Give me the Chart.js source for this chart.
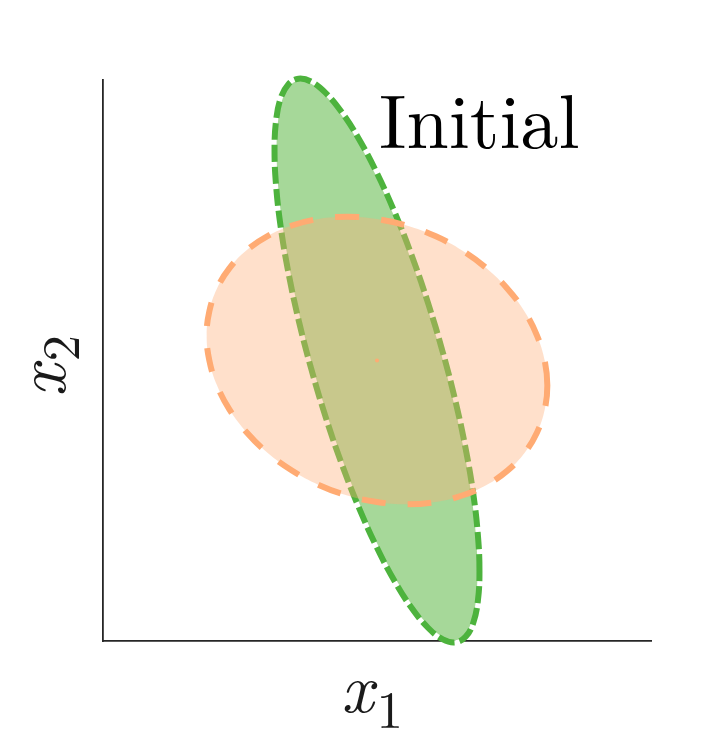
<!DOCTYPE html>
<html><head><meta charset="utf-8">
<script src="https://cdn.jsdelivr.net/npm/chart.js@4.4.0/dist/chart.umd.min.js"></script>
<style>html,body{margin:0;padding:0;background:#fff;} #c{display:block;}</style>
</head><body>
<canvas id="c" width="719" height="750"></canvas>
<script>
// Outline of the green (narrow, tilted) ellipse
const greenX = [1.122, 1.105, 1.055, 0.972, 0.860, 0.721, 0.561, 0.384, 0.195, 0, -0.195, -0.384, -0.561, -0.721, -0.860, -0.972, -1.055, -1.105, -1.122, -1.105, -1.055, -0.972, -0.860, -0.721, -0.561, -0.384, -0.195, 0, 0.195, 0.384, 0.561, 0.721, 0.860, 0.972, 1.055, 1.105];
const greenY = [-2.253, -1.871, -1.433, -0.950, -0.439, 0.086, 0.608, 1.112, 1.581, 2.003, 2.364, 2.653, 2.861, 2.983, 3.014, 2.953, 2.803, 2.567, 2.253, 1.871, 1.433, 0.950, 0.439, -0.086, -0.608, -1.112, -1.581, -2.003, -2.364, -2.653, -2.861, -2.983, -3.014, -2.953, -2.803, -2.567];
// Outline of the orange (wide) ellipse
const orangeX = [1.865, 1.836, 1.752, 1.615, 1.428, 1.199, 0.932, 0.638, 0.324, 0, -0.324, -0.638, -0.932, -1.199, -1.428, -1.615, -1.752, -1.836, -1.865, -1.836, -1.752, -1.615, -1.428, -1.199, -0.932, -0.638, -0.324, 0, 0.324, 0.638, 0.932, 1.199, 1.428, 1.615, 1.752, 1.836];
const orangeY = [-0.268, -0.001, 0.266, 0.525, 0.768, 0.987, 1.177, 1.331, 1.444, 1.513, 1.537, 1.514, 1.444, 1.331, 1.178, 0.988, 0.769, 0.526, 0.268, 0.001, -0.266, -0.525, -0.768, -0.987, -1.177, -1.331, -1.444, -1.513, -1.537, -1.514, -1.444, -1.331, -1.178, -0.988, -0.769, -0.526];
const centerX = [0];
const centerY = [0];
const xRange = [-3, 3];
const yRange = [-3, 3];
const annotationText = 'Initial';
const xLabel = ['x', '1'];
const yLabel = ['x', '2'];

const SERIF = '"Latin Modern Roman", "CMU Serif", "Liberation Serif", serif';

function pts(xs, ys) { return xs.map((x, i) => ({x: x, y: ys[i]})); }

const loopPlugin = {
  id: 'closedLoop',
  afterDatasetUpdate(chart, args) {
    const ds = chart.data.datasets[args.index];
    const line = args.meta && args.meta.dataset;
    if (ds && ds.closedShape && line) {
      line._loop = true;
      line._fullLoop = true;
      delete line._segments;
      delete line._path;
      line._pointsUpdated = false;
    }
  }
};

const textPlugin = {
  id: 'texts',
  afterDraw(chart) {
    const ctx = chart.ctx;
    const a = chart.chartArea;
    ctx.save();
    ctx.fillStyle = '#000';
    ctx.textBaseline = 'alphabetic';
    ctx.textAlign = 'left';
    ctx.font = '76px ' + SERIF;
    ctx.fillText(annotationText, a.left + 276, a.top + 68);

    const mainFont = 'italic 70px ' + SERIF;
    const subFont = '53px ' + SERIF;
    function drawLabel(parts, x0, baseY, subDrop) {
      ctx.font = mainFont;
      const w1 = ctx.measureText(parts[0]).width;
      ctx.fillText(parts[0], x0, baseY);
      ctx.font = subFont;
      ctx.fillText(parts[1], x0 + w1 + 3, baseY + subDrop);
    }
    ctx.fillStyle = '#1a1a1a';
    drawLabel(xLabel, a.left + 238, a.bottom + 71, 16);
    ctx.translate(a.left - 38, a.top + 317);
    ctx.rotate(-Math.PI / 2);
    drawLabel(yLabel, 0, 0, 14);
    ctx.restore();
  }
};

const common = {showLine: true, tension: 0.4, capBezierPoints: false, pointRadius: 0, clip: false, borderCapStyle: 'butt', borderJoinStyle: 'round', closedShape: true};

function build() {
  new Chart(document.getElementById('c'), {
    type: 'scatter',
    data: {
      datasets: [
        {label: 'center', data: pts(centerX, centerY), showLine: false, pointRadius: 2, pointBorderWidth: 0, pointBackgroundColor: '#ffab73', order: 0, clip: false},
        Object.assign({}, common, {label: 'orange', data: pts(orangeX, orangeY), fill: 'shape', backgroundColor: 'rgba(255,174,117,0.38)', borderColor: '#ffab73', borderWidth: 6, borderDash: [24, 22], order: 1}),
        Object.assign({}, common, {label: 'greenDash', data: pts(greenX, greenY), fill: false, borderColor: '#4db33d', borderWidth: 6, borderDash: [17, 5], order: 2}),
        Object.assign({}, common, {label: 'greenBase', data: pts(greenX, greenY), fill: 'shape', backgroundColor: 'rgba(77,178,52,0.5)', borderColor: '#ffffff', borderWidth: 4, order: 3})
      ]
    },
    options: {
      responsive: false,
      animation: false,
      events: [],
      layout: {padding: {left: 103, right: 68, top: 80, bottom: 109}},
      plugins: {legend: {display: false}, tooltip: {enabled: false}, title: {display: false}},
      scales: {
        x: {type: 'linear', min: xRange[0], max: xRange[1], grid: {display: false, drawTicks: false}, ticks: {display: false}, border: {display: true, color: '#262626', width: 1.8}},
        y: {type: 'linear', min: yRange[0], max: yRange[1], grid: {display: false, drawTicks: false}, ticks: {display: false}, border: {display: true, color: '#262626', width: 1.8}}
      }
    },
    plugins: [loopPlugin, textPlugin]
  });
}

let built = false;
function go() { if (!built) { built = true; build(); } }
if (document.fonts && document.fonts.load) {
  Promise.all([
    document.fonts.load('76px "Latin Modern Roman"'),
    document.fonts.load('italic 70px "Latin Modern Roman"')
  ]).then(go, go);
  setTimeout(go, 300);
} else { go(); }
</script>
</body></html>
